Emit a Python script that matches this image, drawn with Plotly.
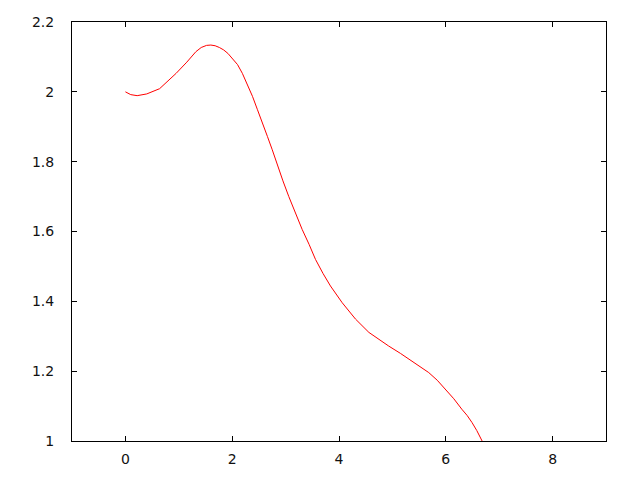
import plotly.graph_objects as go

x_vals = [0.0, 0.1, 0.22, 0.4, 0.64, 0.80, 0.95, 1.15, 1.32, 1.42, 1.52, 1.60, 1.68, 1.76, 1.84, 1.92, 2.0, 2.10, 2.19, 2.28, 2.38, 2.47, 2.57, 2.66, 2.75, 2.85, 2.95, 3.06, 3.18, 3.31, 3.44, 3.56, 3.70, 3.84, 4.06, 4.31, 4.56, 4.75, 4.93, 5.15, 5.37, 5.52, 5.68, 5.84, 5.99, 6.15, 6.30, 6.40, 6.49, 6.58, 6.68, 6.78]
y_vals = [2.000, 1.992, 1.989, 1.994, 2.009, 2.031, 2.053, 2.085, 2.115, 2.127, 2.133, 2.134, 2.132, 2.127, 2.120, 2.110, 2.096, 2.078, 2.053, 2.022, 1.987, 1.950, 1.911, 1.872, 1.834, 1.787, 1.745, 1.700, 1.652, 1.606, 1.563, 1.520, 1.480, 1.444, 1.396, 1.349, 1.311, 1.290, 1.272, 1.251, 1.229, 1.213, 1.196, 1.174, 1.149, 1.121, 1.091, 1.073, 1.053, 1.030, 1.000, 0.970]

x_ticks = [0, 2, 4, 6, 8]
y_ticks = [1, 1.2, 1.4, 1.6, 1.8, 2, 2.2]
y_tick_text = ["1", "1.2", "1.4", "1.6", "1.8", "2", "2.2"]

fig = go.Figure()
fig.add_trace(go.Scatter(x=x_vals, y=y_vals, mode="lines",
                         line=dict(color="#ff0000", width=1), showlegend=False))

axis_common = dict(showgrid=False, zeroline=False, showline=True, linecolor="black",
                   linewidth=1, mirror="allticks", ticks="inside", ticklen=5,
                   tickcolor="black", tickwidth=1, automargin=False,
                   tickfont=dict(family="DejaVu Sans", size=14, color="#111111"))

fig.update_xaxes(range=[-1, 9], tickvals=x_ticks, ticklabelstandoff=5, **axis_common)
fig.update_yaxes(range=[1, 2.2], tickvals=y_ticks, ticktext=y_tick_text,
                 ticklabelstandoff=14, **axis_common)

fig.update_layout(width=640, height=480, plot_bgcolor="white", paper_bgcolor="white",
                  margin=dict(l=64, r=42, t=14, b=47, autoexpand=False))

fig.write_html("out.html")
